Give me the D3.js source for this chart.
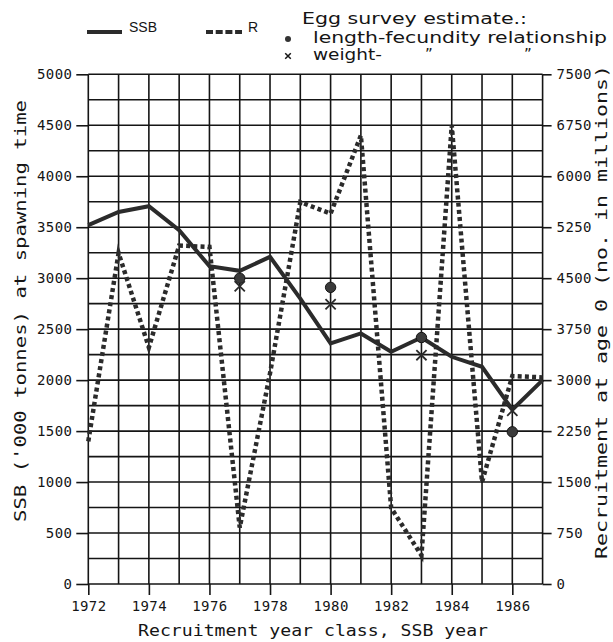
<!DOCTYPE html>
<html>
<head>
<meta charset="utf-8">
<script src="https://cdn.jsdelivr.net/npm/d3@7"></script>
<style>
  html, body { margin: 0; padding: 0; background: #fff; }
  svg { display: block; }
</style>
</head>
<body>
<svg id="chart" width="613" height="642"></svg>
<script>
// ---- data ----
const years = [1972,1973,1974,1975,1976,1977,1978,1979,1980,1981,1982,1983,1984,1985,1986,1987];
const ssb = [3520,3650,3706,3470,3118,3072,3209,2800,2360,2458,2278,2418,2229,2131,1710,2000];
const recruitment = [2100,4870,3480,4980,4960,830,3100,5620,5450,6600,1120,420,6750,1500,3060,3040];
const eggYears = [1977,1980,1983,1986];
const eggLengthFecundity = [3000,2910,2418,1493];
const eggWeight = [2920,2745,2245,1700];
const leftTicks = [0,500,1000,1500,2000,2500,3000,3500,4000,4500,5000];
const rightTicks = [0,750,1500,2250,3000,3750,4500,5250,6000,6750,7500];
const xTickLabels = [1972,1974,1976,1978,1980,1982,1984,1986];

// ---- layout ----
const svg = d3.select("#chart");
const L = 88.3, R = 542.6, T = 74.3, B = 584;
const x = d3.scaleLinear().domain([1972,1987]).range([L,R]);
const yL = d3.scaleLinear().domain([0,5000]).range([B,T]);
const yR = d3.scaleLinear().domain([0,7500]).range([B,T]);
const ink = "#151515";
const lineInk = "#2b2b2b";
const monoFont = "'DejaVu Sans Mono', monospace";

// grid
const g = svg.append("g");
const hGrid = d3.range(0, 5001, 250);
g.selectAll("line.h").data(hGrid).join("line")
  .attr("x1", L).attr("x2", R)
  .attr("y1", d => yL(d)).attr("y2", d => yL(d))
  .attr("stroke", ink).attr("stroke-width", 1.6);
g.selectAll("line.v").data(d3.range(1972, 1988)).join("line")
  .attr("x1", d => x(d)).attr("x2", d => x(d))
  .attr("y1", T).attr("y2", B)
  .attr("stroke", ink).attr("stroke-width", 1.6);

// axes
const axLeft = d3.axisLeft(yL).tickValues(leftTicks).tickSize(12).tickPadding(4).tickFormat(d3.format("d"));
const axRight = d3.axisRight(yR).tickValues(rightTicks).tickSize(9).tickPadding(5).tickFormat(d3.format("d"));
const axBottom = d3.axisBottom(x).tickValues(xTickLabels).tickSize(11).tickPadding(6).tickFormat(d3.format("d"));

function styleAxis(sel) {
  sel.select(".domain").remove();
  sel.selectAll(".tick line").attr("stroke", ink).attr("stroke-width", 1.6);
  sel.selectAll(".tick text").attr("fill", ink)
    .style("font-family", monoFont).style("font-size", "14px").style("letter-spacing", "0.4px");
}
svg.append("g").attr("transform", `translate(${L},0)`).call(axLeft).call(styleAxis);
svg.append("g").attr("transform", `translate(${R},0)`).call(axRight).call(styleAxis);
svg.append("g").attr("transform", `translate(0,${B})`).call(axBottom).call(styleAxis);

// series
const pts = years.map((yr, i) => ({yr, s: ssb[i], r: recruitment[i]}));
svg.append("path").datum(pts)
  .attr("d", d3.line().x(d => x(d.yr)).y(d => yR(d.r)))
  .attr("fill", "none").attr("stroke", lineInk).attr("stroke-width", 4.5)
  .attr("stroke-dasharray", "4,3.2").attr("stroke-linejoin", "miter").attr("stroke-miterlimit", 6);
svg.append("path").datum(pts)
  .attr("d", d3.line().x(d => x(d.yr)).y(d => yL(d.s)))
  .attr("fill", "none").attr("stroke", lineInk).attr("stroke-width", 4)
  .attr("stroke-linejoin", "miter");

// egg survey markers
svg.selectAll("circle.egg").data(eggYears.map((yr,i)=>({yr, v: eggLengthFecundity[i]}))).join("circle")
  .attr("cx", d => x(d.yr)).attr("cy", d => yL(d.v)).attr("r", 5.2)
  .attr("fill", "#3a3a3a").attr("stroke", ink).attr("stroke-width", 1);
const cross = d3.symbol().type(d3.symbolX).size(70);
svg.selectAll("path.egg").data(eggYears.map((yr,i)=>({yr, v: eggWeight[i]}))).join("path")
  .attr("transform", d => `translate(${x(d.yr)},${yL(d.v)})`)
  .attr("d", cross).attr("fill", "none").attr("stroke", "#2a2a2a").attr("stroke-width", 1.8);

// axis titles
svg.append("text").attr("transform", "translate(20,311) rotate(-90)")
  .attr("text-anchor", "middle").attr("dy", "0.35em")
  .attr("textLength", 422).attr("lengthAdjust", "spacingAndGlyphs")
  .style("font-family", monoFont).style("font-size", "16px").attr("fill", ink)
  .text("SSB ('000 tonnes) at spawning time");
svg.append("text").attr("transform", "translate(601,312) rotate(-90)")
  .attr("text-anchor", "middle").attr("dy", "0.35em")
  .attr("textLength", 494).attr("lengthAdjust", "spacingAndGlyphs")
  .style("font-family", monoFont).style("font-size", "16px").attr("fill", ink)
  .text("Recruitment at age 0 (no. in millions)");
svg.append("text").attr("x", 313).attr("y", 636)
  .attr("text-anchor", "middle")
  .attr("textLength", 350).attr("lengthAdjust", "spacingAndGlyphs")
  .style("font-family", monoFont).style("font-size", "16px").attr("fill", ink)
  .text("Recruitment year class, SSB year");

// legend
const sansFont = "'Liberation Sans', Arial, sans-serif";
svg.append("line").attr("x1", 87).attr("x2", 122).attr("y1", 32).attr("y2", 32)
  .attr("stroke", lineInk).attr("stroke-width", 4);
svg.append("text").attr("x", 129).attr("y", 32).style("font-family", sansFont)
  .style("font-size", "14px").attr("fill", ink).text("SSB");
svg.append("line").attr("x1", 206).attr("x2", 242).attr("y1", 32).attr("y2", 32)
  .attr("stroke", lineInk).attr("stroke-width", 4).attr("stroke-dasharray", "7,2.7");
svg.append("text").attr("x", 248).attr("y", 32).style("font-family", sansFont)
  .style("font-size", "14px").attr("fill", ink).text("R");

const legFont = "'DejaVu Sans', sans-serif";
svg.append("text").attr("x", 302).attr("y", 24)
  .attr("textLength", 225).attr("lengthAdjust", "spacingAndGlyphs")
  .style("font-family", legFont).style("font-size", "15px").attr("fill", ink)
  .text("Egg survey estimate.:");
svg.append("circle").attr("cx", 288).attr("cy", 39).attr("r", 3).attr("fill", "#333");
svg.append("text").attr("x", 313).attr("y", 43)
  .attr("textLength", 294).attr("lengthAdjust", "spacingAndGlyphs")
  .style("font-family", legFont).style("font-size", "15px").attr("fill", ink)
  .text("length-fecundity relationship");
svg.append("path").attr("transform", "translate(288,56)")
  .attr("d", d3.symbol().type(d3.symbolX).size(22)).attr("fill", "none")
  .attr("stroke", ink).attr("stroke-width", 1.5);
svg.append("text").attr("x", 313).attr("y", 60)
  .attr("textLength", 69).attr("lengthAdjust", "spacingAndGlyphs")
  .style("font-family", legFont).style("font-size", "15px").attr("fill", ink)
  .text("weight-");
svg.append("text").attr("x", 425).attr("y", 60)
  .style("font-family", legFont).style("font-size", "15px").attr("fill", ink).text("\u201D");
svg.append("text").attr("x", 524).attr("y", 60)
  .style("font-family", legFont).style("font-size", "15px").attr("fill", ink).text("\u201D");
</script>
</body>
</html>
